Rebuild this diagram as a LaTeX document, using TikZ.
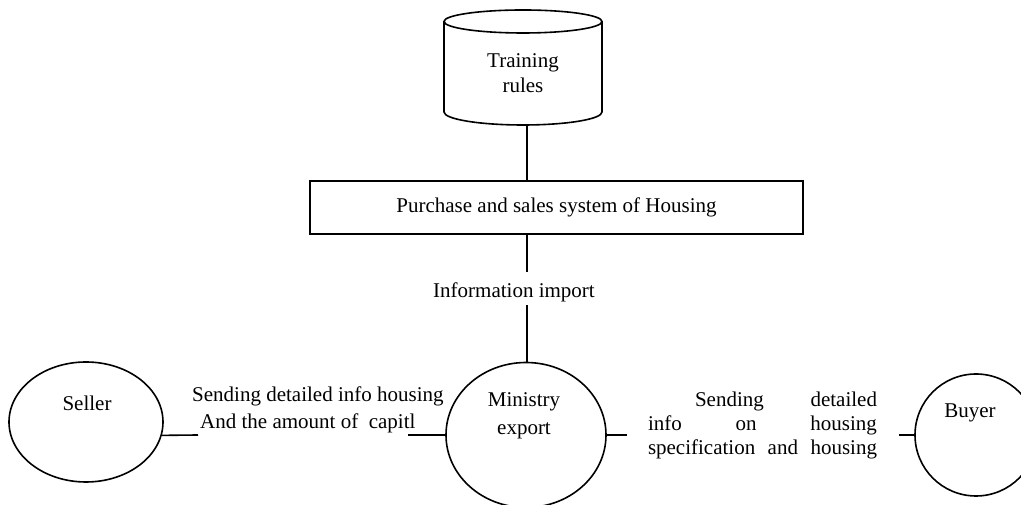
\documentclass[tikz,border=0pt]{standalone}
\usepackage{fontspec}
\setmainfont{Liberation Serif}
\usetikzlibrary{shapes.geometric}
\begin{document}
\begin{tikzpicture}[x=1pt,y=1pt,
  lw/.style={line width=1.6pt},
  txt/.style={inner sep=0pt, font=\fontsize{21}{24}\selectfont},
  oval/.style={draw, ellipse, line width=1.6pt, inner sep=0pt},
  disc/.style={draw, circle, line width=1.6pt, inner sep=0pt},
  sysbox/.style={draw, rectangle, line width=1.6pt, inner sep=0pt,
    font=\fontsize{21}{24}\selectfont}]
\useasboundingbox (0,0) rectangle (1021,505);

% data store: cylinder
\draw[lw] (444,483.5) -- (444,393)
  arc[start angle=180, end angle=360, x radius=79, y radius=13] -- (602,483.5);
\draw[lw] (523,483.5) ellipse[x radius=79, y radius=11.5];
\node[txt, align=center, font=\fontsize{21}{25}\selectfont] (train) at (523,432) {Training\\rules};
\coordinate (cylbot) at (527,380);

% system box
\node[sysbox, minimum width=493, minimum height=53] (sys) at (556.5,297.5)
  {Purchase and sales system of Housing};
\draw[lw] (cylbot) -- (cylbot |- sys.north);

% import label
\node[txt, anchor=base, text height=26pt, text depth=7pt] (info) at (514,207) {Information import};

% actors
\node[oval, minimum width=154, minimum height=120] (seller) at (86,83) {};
\node[txt] (sellerT) at (87,102) {Seller};
\node[oval, minimum width=160, minimum height=145] (ministry) at (526,70) {};
\node[txt, align=center, font=\fontsize{21}{28}\selectfont] (ministryT) at (524,89) {Ministry\\export};
\node[disc, minimum size=122] (buyer) at (976,70) {};
\node[txt] (buyerT) at (970,92) {Buyer};

% vertical flow
\draw[lw] (sys.south -| cylbot) -- (info.north -| cylbot);
\draw[lw] (info.south -| cylbot) -- (ministry.north -| cylbot);

% seller to ministry
\coordinate (sA) at (198,70);
\coordinate (sB) at (408,70);
\draw[lw] (seller.-10) -- (sA);
\draw[lw] (sB) -- (ministry.west);
\node[txt, anchor=west, align=left, font=\fontsize{21}{27}\selectfont] (sendL) at (192,95.5)
  {Sending detailed info housing\\\hspace*{8pt}And the amount of\ \ capitl};

% ministry to buyer
\coordinate (rA) at (627,70);
\coordinate (rB) at (899,70);
\draw[lw] (ministry.east) -- (rA);
\draw[lw] (rB) -- (buyer.west);
\node[txt, align=left] (sendR) at (762.5,80)
  {\makebox[229pt][s]{\hspace*{47pt}Sending detailed}\\
   \makebox[229pt][s]{info on housing}\\
   \makebox[229pt][s]{specification and housing}};
\end{tikzpicture}
\end{document}
